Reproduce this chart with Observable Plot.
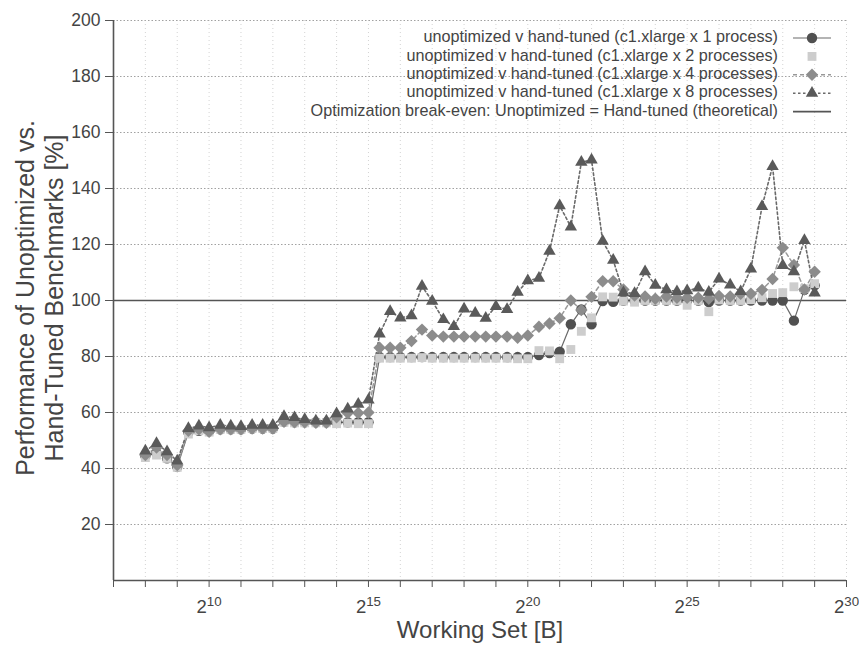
<!DOCTYPE html>
<html>
<head>
<meta charset="utf-8">
<script src="https://cdn.jsdelivr.net/npm/d3@7"></script>
<script src="https://cdn.jsdelivr.net/npm/@observablehq/plot@0.6"></script>
<style>
  html, body { margin: 0; padding: 0; background: #fff; }
  #chart { width: 859px; height: 645px; }
</style>
</head>
<body>
<div id="chart"></div>
<script>
// Working set sizes, as log2(bytes)
const workingSetLog2 = [
  8, 8.35, 8.68, 9, 9.35, 9.68, 10, 10.35, 10.68, 11, 11.35, 11.68,
  12, 12.35, 12.68, 13, 13.35, 13.68, 14, 14.35, 14.68, 15, 15.35, 15.68,
  16, 16.35, 16.68, 17, 17.35, 17.68, 18, 18.35, 18.68, 19, 19.35, 19.68,
  20, 20.35, 20.68, 21, 21.35, 21.68, 22, 22.35, 22.68, 23, 23.35, 23.68,
  24, 24.35, 24.68, 25, 25.35, 25.68, 26, 26.35, 26.68, 27, 27.35, 27.68,
  28, 28.35, 28.68, 29
];

const oneProcess = [
  44.5, 45.5, 43.6, 40.6, 52.9, 53.5, 53.3, 54, 54, 54, 54.3, 54.3,
  54.3, 56.7, 56.5, 56.5, 56.5, 56.5, 56.5, 56.5, 56.5, 56.5, 79.8, 79.8,
  79.8, 79.8, 79.8, 79.8, 79.8, 79.8, 79.8, 79.8, 79.8, 79.8, 79.8, 79.8,
  79.8, 80.5, 81.2, 81.7, 91.5, 96.8, 91.5, 99.8, 99.5, 100, 100, 100,
  100, 100, 100, 100, 100, 99.4, 100, 100, 100, 100, 100, 100,
  100, 92.8, 103.8, 105.4
];

const twoProcesses = [
  43.9, 44.8, 43.6, 40.4, 52.3, 53.5, 53, 54, 54, 54, 54.3, 54.3,
  54.3, 56.5, 56.3, 56.3, 56.3, 56.3, 56, 56.2, 56, 56, 79.4, 79.4,
  79.4, 79.4, 79.6, 79.4, 79.4, 79.4, 79.4, 79.4, 79.4, 79.4, 79.4, 79.2,
  79.2, 82.1, 82, 79.2, 82.5, 89, 93.8, 101.3, 101.2, 99.8, 99.4, 100,
  100, 100, 100, 98.3, 100, 96, 100.2, 100, 100, 100.3, 101, 102.5,
  102.8, 104.9, 104.2, 106
];

const fourProcesses = [
  44.8, 47.5, 44.8, 41.2, 53.5, 54, 53.1, 54, 54, 54, 54.3, 54.3,
  54.3, 56.7, 56.5, 56.5, 56.3, 56.3, 58.3, 59.8, 59.8, 60, 83.1, 83.1,
  83.1, 85.5, 89.6, 87.5, 87.1, 87.1, 87.1, 87.1, 87.1, 87.1, 87.1, 86.7,
  87.5, 90.6, 91.8, 93.7, 100, 96.6, 101.3, 106.9, 106.9, 103.9, 101.8, 101.4,
  100.6, 101.4, 101, 101, 101, 100.6, 101.6, 101.4, 102.4, 102.4, 103.8, 107.7,
  118.8, 112.7, 103.9, 110.3
];

const eightProcesses = [
  46.3, 49, 46, 42.7, 54.3, 55.2, 54.6, 55.5, 55.2, 55, 55.5, 55.5,
  55.5, 58.6, 58.2, 57.5, 57, 57, 59.6, 61.3, 63, 64.5, 88.1, 96.1,
  93.8, 94.6, 105.1, 99.8, 93.2, 90.7, 97, 95.5, 93.7, 97.9, 96.8, 103,
  107.1, 108, 117.6, 133.9, 126.3, 149.4, 150.2, 121.2, 114.4, 102.8, 102.5, 110.3,
  105.5, 103.9, 103.2, 103.5, 104.5, 103, 107.7, 105.6, 103.2, 111.3, 133.6, 147.9,
  112.5, 110.3, 121.5, 102.7
];

const seriesLabels = [
  "unoptimized v hand-tuned (c1.xlarge x 1 process)",
  "unoptimized v hand-tuned (c1.xlarge x 2 processes)",
  "unoptimized v hand-tuned (c1.xlarge x 4 processes)",
  "unoptimized v hand-tuned (c1.xlarge x 8 processes)"
];
const breakEvenLabel = "Optimization break-even: Unoptimized = Hand-tuned (theoretical)";
const breakEvenValue = [100];
const yTicks = [20, 40, 60, 80, 100, 120, 140, 160, 180, 200];
const xTicks = [7, 8, 9, 10, 11, 12, 13, 14, 15, 16, 17, 18, 19, 20, 21, 22, 23, 24, 25, 26, 27, 28, 29, 30];
const xLabelledTicks = [10, 15, 20, 25, 30];
const yTitleLines = ["Performance of Unoptimized vs.", "Hand-Tuned Benchmarks [%]"];
const xTitle = "Working Set [B]";

const styles = [
  {symbol: "circle", r: 5.2, fill: "#505050", line: "#6a6a6a", dash: null, width: 1.2},
  {symbol: "square", r: 5.0, fill: "#cdcdcd", line: null, dash: null, width: 0},
  {symbol: "diamond2", r: 5.6, fill: "#8c8c8c", line: "#999999", dash: "4,3", width: 1.5},
  {symbol: "triangle", r: 4.6, fill: "#5a5a5a", line: "#6a6a6a", dash: "2.5,2.5", width: 1.6}
];

const allSeries = [oneProcess, twoProcesses, fourProcesses, eightProcesses];
const tables = allSeries.map((vals, k) =>
  workingSetLog2.map((x, i) => ({x, y: vals[i], series: seriesLabels[k]}))
);

const marks = [
  Plot.gridY(yTicks, {stroke: "#8a8a8a", strokeOpacity: 0.8, strokeDasharray: "1.5,2", strokeWidth: 1}),
  Plot.gridX(xTicks.slice(1), {stroke: "#b5b5b5", strokeOpacity: 0.6, strokeDasharray: "1,3", strokeWidth: 1}),
  Plot.ruleY(breakEvenValue, {stroke: "#555", strokeWidth: 1.6})
];
tables.forEach((t, k) => {
  const s = styles[k];
  if (s.line) {
    marks.push(Plot.line(t, {x: "x", y: "y", stroke: s.line, strokeWidth: s.width, strokeDasharray: s.dash}));
  }
});
tables.forEach((t, k) => {
  const s = styles[k];
  marks.push(Plot.dot(t, {x: "x", y: "y", symbol: () => s.symbol, r: s.r, fill: s.fill, stroke: "none"}));
});
marks.push(
  Plot.ruleX([7], {stroke: "#555", strokeWidth: 1.6}),
  Plot.ruleY([0], {stroke: "#555", strokeWidth: 1.6}),
  Plot.axisY(yTicks, {tickSize: 8, tickPadding: 5, label: null, fontSize: 17.5, stroke: "#555"}),
  Plot.axisX(xTicks, {tickSize: 7, tickPadding: 12, label: null, fontSize: 18.5, stroke: "#555",
    tickFormat: d => xLabelledTicks.includes(d) ? String(d) : ""})
);

const chart = Plot.plot({
  width: 859,
  height: 645,
  marginLeft: 113,
  marginRight: 13,
  marginTop: 20,
  marginBottom: 65,
  x: {type: "linear", domain: [7, 30]},
  y: {domain: [0, 200]},
  symbol: {type: "identity"},
  style: {fontFamily: "'Liberation Sans', Arial, sans-serif", color: "#444", background: "#fff"},
  marks
});
document.getElementById("chart").appendChild(chart);

const svg = d3.select(chart);
// superscript exponent labels: 2^n
svg.selectAll('g[aria-label="x-axis tick label"] text').each(function() {
  const t = d3.select(this);
  const v = t.text();
  if (!v) return;
  t.text("2");
  t.append("tspan").attr("dy", "-0.5em").attr("font-size", "0.72em").text(v);
});

const font = "'Liberation Sans', Arial, sans-serif";
// axis titles
svg.append("text")
  .attr("transform", "translate(27,298) rotate(-90)")
  .attr("text-anchor", "middle").attr("dominant-baseline", "middle")
  .attr("font-family", font).attr("font-size", 25).attr("fill", "#444")
  .text(yTitleLines[0]);
svg.append("text")
  .attr("transform", "translate(56,298) rotate(-90)")
  .attr("text-anchor", "middle").attr("dominant-baseline", "middle")
  .attr("font-family", font).attr("font-size", 25).attr("fill", "#444")
  .text(yTitleLines[1]);
svg.append("text")
  .attr("x", 480).attr("y", 632)
  .attr("text-anchor", "middle").attr("dominant-baseline", "middle")
  .attr("font-family", font).attr("font-size", 24).attr("fill", "#444")
  .text(xTitle);

// legend
const legend = svg.append("g").attr("font-family", font).attr("font-size", 16.2).attr("fill", "#444");
const legendItems = seriesLabels.map((l, k) => ({label: l, style: styles[k]}))
  .concat([{label: breakEvenLabel, style: {line: "#555", width: 1.6, dash: null, symbol: null}}]);
legendItems.forEach((it, i) => {
  const cy = 38 + i * 18.4;
  legend.append("text").attr("x", 778).attr("y", cy).attr("text-anchor", "end")
    .attr("dominant-baseline", "middle").text(it.label);
  const s = it.style;
  if (s.line) {
    legend.append("line").attr("x1", 793).attr("x2", 831).attr("y1", cy).attr("y2", cy)
      .attr("stroke", s.line).attr("stroke-width", s.width)
      .attr("stroke-dasharray", s.dash);
  }
  if (s.symbol) {
    const typ = {circle: d3.symbolCircle, square: d3.symbolSquare, diamond2: d3.symbolDiamond2, triangle: d3.symbolTriangle}[s.symbol];
    legend.append("path").attr("transform", `translate(812,${cy})`)
      .attr("d", d3.symbol(typ, Math.PI * s.r * s.r)()).attr("fill", s.fill);
  }
});
</script>
</body>
</html>
